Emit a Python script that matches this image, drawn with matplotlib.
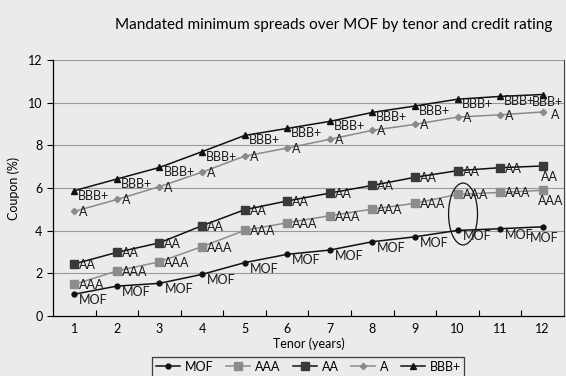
import matplotlib
matplotlib.use("Agg")
import matplotlib.pyplot as plt
from matplotlib.patches import Ellipse

plt.rcParams['font.family'] = ['Lato', 'DejaVu Sans']

tenors = [1, 2, 3, 4, 5, 6, 7, 8, 9, 10, 11, 12]
mof = [1.02, 1.40, 1.53, 1.95, 2.50, 2.89, 3.09, 3.48, 3.71, 4.01, 4.09, 4.18]
aaa = [1.48, 2.11, 2.54, 3.25, 4.01, 4.37, 4.70, 5.01, 5.28, 5.70, 5.79, 5.89]
aa = [2.44, 2.98, 3.43, 4.23, 4.98, 5.39, 5.76, 6.12, 6.50, 6.81, 6.95, 7.03]
a_rating = [4.90, 5.46, 6.06, 6.74, 7.49, 7.87, 8.28, 8.70, 8.98, 9.32, 9.43, 9.56]
bbb = [5.87, 6.42, 6.96, 7.70, 8.46, 8.79, 9.12, 9.54, 9.84, 10.16, 10.29, 10.38]

series_names = ["MOF", "AAA", "AA", "A", "BBB+"]
title = "Mandated minimum spreads over MOF by tenor and credit rating"

bg = "#ebebeb"
fig = plt.figure(figsize=(5.66, 3.76), dpi=100, facecolor=bg)
ax = fig.add_axes([0.0936, 0.1596, 0.9028, 0.681], facecolor=bg)

styles = [
    dict(color="#111111", marker="o", ms=3.5, mfc="#111111", mec="#111111"),
    dict(color="#8c8c8c", marker="s", ms=6, mfc="#8c8c8c", mec="#8c8c8c"),
    dict(color="#111111", marker="s", ms=6, mfc="#3a3a3a", mec="#3a3a3a"),
    dict(color="#8a8a8a", marker="D", ms=3.2, mfc="#8a8a8a", mec="#8a8a8a"),
    dict(color="#111111", marker="^", ms=5, mfc="#111111", mec="#111111"),
]
# label offsets (pixels) for points 1-11 and for the last point
offsets = [((5, -6), (2, -11)), ((5, -1), (8, -11)), ((5, -1), (7, -11)),
           ((5, -1), (8, -3)), ((4, -5), (5, -7))]

all_series = [mof, aaa, aa, a_rating, bbb]
for name, vals, st, (off, off_last) in zip(series_names, all_series, styles, offsets):
    ax.plot(tenors, vals, lw=1.1, label=name, zorder=3, **st)
    for i, (x, y) in enumerate(zip(tenors, vals)):
        if i == len(tenors) - 1:
            ha = "left" if name == "A" else "center"
            ax.annotate(name, (x, y), xytext=off_last, textcoords="offset pixels",
                        ha=ha, va="center", fontsize=9, color="#1a1a1a", zorder=4)
        else:
            ax.annotate(name, (x, y), xytext=off, textcoords="offset pixels",
                        ha="left", va="center", fontsize=9, color="#1a1a1a", zorder=4)

ax.add_patch(Ellipse((10.13, 4.78), 0.68, 2.9, fill=False, ec="#111111", lw=0.9, zorder=5))

ax.set_xlim(0.5, 12.5)
ax.set_ylim(0, 12)
ax.set_yticks(range(0, 13, 2))
ax.set_xticks(tenors)
ax.set_xticks([t + 0.5 for t in tenors[:-1]], minor=True)
ax.tick_params(axis="x", which="major", length=0, labelsize=9, pad=5)
ax.tick_params(axis="x", which="minor", direction="in", length=4, width=0.8)
ax.tick_params(axis="y", direction="out", length=4, width=0.8, labelsize=9)
for yv in range(2, 13, 2):
    ax.axhline(yv, color="#9a9a9a", lw=0.8, zorder=1)
ax.spines["top"].set_visible(False)
ax.spines["right"].set_color("#444444")
ax.spines["right"].set_linewidth(0.8)
ax.spines["left"].set_linewidth(0.9)
ax.spines["bottom"].set_linewidth(0.9)

ax.set_xlabel("Tenor (years)", fontsize=9, labelpad=2)
ax.set_ylabel("Coupon (%)", fontsize=9, labelpad=6)
fig.text(0.589, 0.934, title, ha="center", va="center", fontsize=11)

leg = fig.legend(loc="upper center", bbox_to_anchor=(0.545, 19 / 376), ncol=5,
                 fontsize=9, frameon=True, fancybox=False, edgecolor="#111111",
                 facecolor=bg, handlelength=1.9, columnspacing=1.0, borderpad=0.3,
                 handletextpad=0.4, borderaxespad=0)
leg.get_frame().set_linewidth(0.9)

fig.savefig("out.png", dpi=100, facecolor=bg)
